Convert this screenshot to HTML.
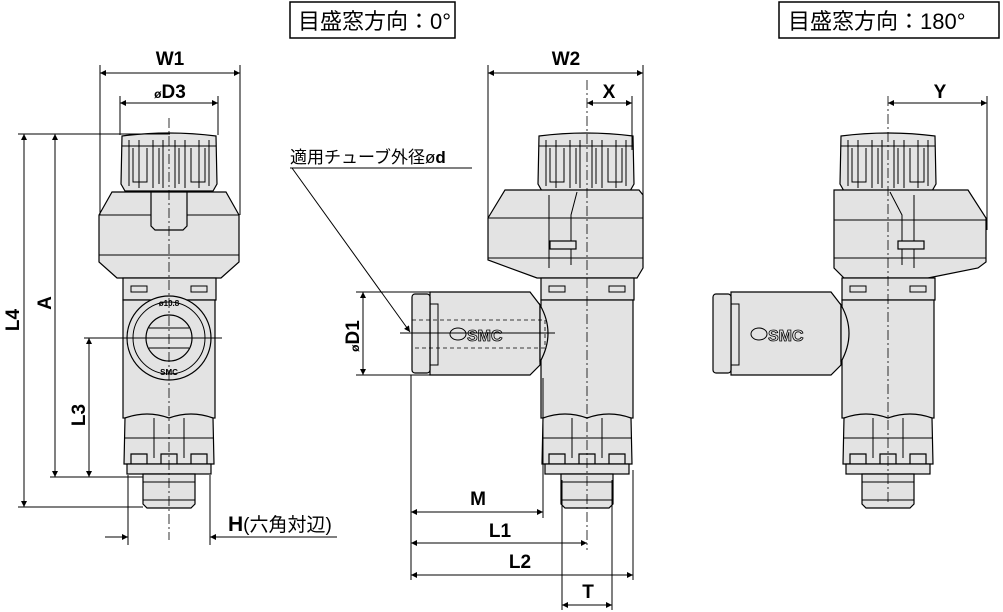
<!DOCTYPE html>
<html><head><meta charset="utf-8"><style>
html,body{margin:0;padding:0;background:#fff}
svg{display:block}
text{font-family:"Liberation Sans","Noto Sans CJK JP",sans-serif;fill:#000}
.b{font-weight:bold;font-size:19px}
.j{font-size:17px}
.f{fill:#e3e3e3;stroke:#000;stroke-width:1.2}
.l{stroke:#000;stroke-width:1;fill:none}
.c{stroke:#000;stroke-width:0.8;fill:none;stroke-dasharray:10 3 2 3}
.d{stroke:#000;stroke-width:0.8;fill:none;stroke-dasharray:4 3}
</style></head><body>
<svg width="1003" height="612" viewBox="0 0 1003 612" xmlns="http://www.w3.org/2000/svg">
<defs>
<marker id="a" viewBox="0 0 10 10" refX="10" refY="5" markerWidth="14" markerHeight="6" orient="auto-start-reverse" markerUnits="userSpaceOnUse"><path d="M0,0L10,5L0,10z" fill="#000"/></marker>
<g id="knob">
<path class="f" d="M-47,2 Q0,-4 47,2 L48,50 L44,57 L-44,57 L-48,50Z"/>
<path class="l" d="M-40,6V52M-30,6V54M-16,6V54M-6,6V54M6,6V54M16,6V54M30,6V54M40,6V52M-47,12H47"/>
<path class="l" d="M-36,14V48H-22V14M-10,14V50M10,14V50M22,14V48H36V14"/>
</g>
<g id="lowbody">
<rect class="f" x="-46" y="0" width="93" height="22"/>
<rect class="l" x="-38" y="8" width="16" height="6"/><rect class="l" x="22" y="8" width="16" height="6"/>
<rect class="f" x="-46" y="22" width="92" height="118"/>
<path class="f" d="M-44,140 Q-22,132 0,140 Q22,132 44,140 L45,186 L-45,186Z"/>
<path class="l" d="M-15,140V180M15,140V180M-44,160H44"/>
<path class="f" d="M-38,176 H-22 V186 H-38Z M-8,176H8V186H-8Z M22,176H38V186H22Z"/>
<rect class="f" x="-42" y="186" width="84" height="10"/>
<path class="f" d="M-26,196 H26 V226 L22,230 H-22 L-26,226Z"/>
<path class="l" d="M-26,204H26M-26,222H26"/>
</g>
</defs>

<rect x="290" y="2" width="165" height="36" fill="#fff" stroke="#000" stroke-width="1.5"/>
<text x="298" y="29" style="font-size:22px">目盛窓方向：0°</text>
<rect x="779" y="2" width="220" height="36" fill="#fff" stroke="#000" stroke-width="1.5"/>
<text x="788" y="29" style="font-size:22px">目盛窓方向：180°</text>

<g transform="translate(169,0)">
<use href="#knob" y="134"/>
<path class="f" d="M-57,192 H57 L70,215 V262 L52,278 H-52 L-70,262 V215Z"/>
<path class="l" d="M-70,215H70M-70,255H70"/>
<path class="f" d="M-18,192 H18 V226 L14,230 H-14 L-18,226Z"/>
<use href="#lowbody" y="278"/>
<circle class="f" cx="0" cy="338" r="42"/>
<circle class="l" cx="0" cy="338" r="36"/>
<circle class="f" cx="0" cy="338" r="23"/>
<path class="l" d="M-20,328H20M-22,338H22M-20,348H20"/>
<text x="0" y="306" text-anchor="middle" style="font-size:8px;font-weight:bold">ø10.8</text>
<text x="0" y="375" text-anchor="middle" style="font-size:8px;font-weight:bold">SMC</text>
</g>
<line class="c" x1="169" y1="118" x2="169" y2="540"/>
<line class="l" x1="95" y1="338" x2="222" y2="338"/>
<path class="l" d="M100,65V215M240,65V215M120,96V135M218,96V135"/>
<line class="l" x1="100" y1="73" x2="240" y2="73" marker-start="url(#a)" marker-end="url(#a)"/>
<text class="b" x="170" y="65" text-anchor="middle">W1</text>
<line class="l" x1="120" y1="103" x2="218" y2="103" marker-start="url(#a)" marker-end="url(#a)"/>
<text class="b" x="170" y="98" text-anchor="middle"><tspan style="font-size:12px">ø</tspan>D3</text>
<path class="l" d="M18,134H170M50,477H143M18,507H143M84,338H130"/>
<line class="l" x1="24" y1="134" x2="24" y2="507" marker-start="url(#a)" marker-end="url(#a)"/>
<line class="l" x1="55" y1="134" x2="55" y2="477" marker-start="url(#a)" marker-end="url(#a)"/>
<line class="l" x1="89" y1="338" x2="89" y2="477" marker-start="url(#a)" marker-end="url(#a)"/>
<text class="b" transform="translate(19,320) rotate(-90)" text-anchor="middle">L4</text>
<text class="b" transform="translate(51,303) rotate(-90)" text-anchor="middle">A</text>
<text class="b" transform="translate(85,415) rotate(-90)" text-anchor="middle">L3</text>
<path class="l" d="M128,475V545M210,475V545M105,537H128M210,537H337"/>
<line class="l" x1="105" y1="537" x2="128" y2="537" marker-end="url(#a)"/>
<line class="l" x1="232" y1="537" x2="210" y2="537" marker-end="url(#a)"/>
<text x="228" y="531" style="font-size:19px"><tspan font-weight="bold" style="font-size:21px">H</tspan>(六角対辺)</text>

<g transform="translate(587,0)">
<use href="#knob" x="-1" y="134"/>
<path class="f" d="M-82,190 H52 L56,195 V268 L50,278 H-50 L-99,260 V218 L-82,190Z"/>
<path class="l" d="M-99,218H56M-99,258H56M-10,192 L-16,215 V265 M-38,195V268"/>
<rect class="f" x="-37" y="241" width="26" height="8"/>
<use href="#lowbody" y="278"/>
</g>
<path class="f" d="M430,292 H530 L540,305 V365 L530,375 H430Z"/>
<path class="f" d="M540,305 Q556,333 540,362Z"/>
<rect class="f" x="412" y="294" width="18" height="79" rx="3"/>
<path class="l" d="M430,304H438V365H430"/>
<path class="d" d="M412,320H545V348H412"/>
<ellipse class="l" cx="458" cy="334" rx="8" ry="6"/>
<text x="467" y="341" style="font-size:16px;font-weight:bold;fill:#e3e3e3;stroke:#000;stroke-width:0.8">SMC</text>
<line class="c" x1="587" y1="80" x2="587" y2="550"/>
<line class="l" x1="400" y1="333" x2="555" y2="333"/>
<path class="l" d="M488,65V260M643,65V268M632,96V150"/>
<line class="l" x1="488" y1="73" x2="643" y2="73" marker-start="url(#a)" marker-end="url(#a)"/>
<text class="b" x="566" y="65" text-anchor="middle">W2</text>
<line class="l" x1="587" y1="103" x2="632" y2="103" marker-start="url(#a)" marker-end="url(#a)"/>
<text class="b" x="609" y="98" text-anchor="middle">X</text>
<path class="l" d="M356,292H430M356,375H430"/>
<line class="l" x1="363" y1="292" x2="363" y2="375" marker-start="url(#a)" marker-end="url(#a)"/>
<text class="b" transform="translate(359,336) rotate(-90)" text-anchor="middle"><tspan style="font-size:12px">ø</tspan>D1</text>
<text class="j" x="290" y="163">適用チューブ外径ø<tspan font-weight="bold">d</tspan></text>
<line class="l" x1="290" y1="168" x2="472" y2="168"/>
<line class="l" x1="292" y1="168" x2="410" y2="332" marker-end="url(#a)"/>
<path class="l" d="M411,375V580M543,378V518M633,470V580M562,480V610M612,480V610"/>
<line class="l" x1="411" y1="512" x2="543" y2="512" marker-start="url(#a)" marker-end="url(#a)"/>
<text class="b" x="478" y="505" text-anchor="middle">M</text>
<line class="l" x1="411" y1="543" x2="587" y2="543" marker-start="url(#a)" marker-end="url(#a)"/>
<text class="b" x="500" y="537" text-anchor="middle">L1</text>
<line class="l" x1="411" y1="575" x2="633" y2="575" marker-start="url(#a)" marker-end="url(#a)"/>
<text class="b" x="520" y="568" text-anchor="middle">L2</text>
<line class="l" x1="562" y1="605" x2="612" y2="605" marker-start="url(#a)" marker-end="url(#a)"/>
<text class="b" x="588" y="598" text-anchor="middle">T</text>

<g transform="translate(888,0)">
<use href="#knob" x="0" y="134"/>
<path class="f" d="M-54,190 H80 L98,218 V262 L90,268 L40,278 H-44 L-54,268Z"/>
<path class="l" d="M-54,220H98M-54,258H98M2,192 L14,215 V265 M26,195V268"/>
<rect class="f" x="10" y="241" width="26" height="8"/>
<use href="#lowbody" y="278"/>
</g>
<path class="f" d="M731,292 H831 L841,305 V365 L831,375 H731Z"/>
<path class="f" d="M841,305 Q857,333 841,362Z"/>
<rect class="f" x="713" y="294" width="18" height="79" rx="3"/>
<path class="l" d="M731,304H739V365H731"/>
<ellipse class="l" cx="759" cy="334" rx="8" ry="6"/>
<text x="768" y="341" style="font-size:16px;font-weight:bold;fill:#e3e3e3;stroke:#000;stroke-width:0.8">SMC</text>
<line class="c" x1="888" y1="96" x2="888" y2="505"/>
<path class="l" d="M987,96V230"/>
<line class="l" x1="888" y1="103" x2="987" y2="103" marker-start="url(#a)" marker-end="url(#a)"/>
<text class="b" x="940" y="98" text-anchor="middle">Y</text>
</svg>
</body></html>
